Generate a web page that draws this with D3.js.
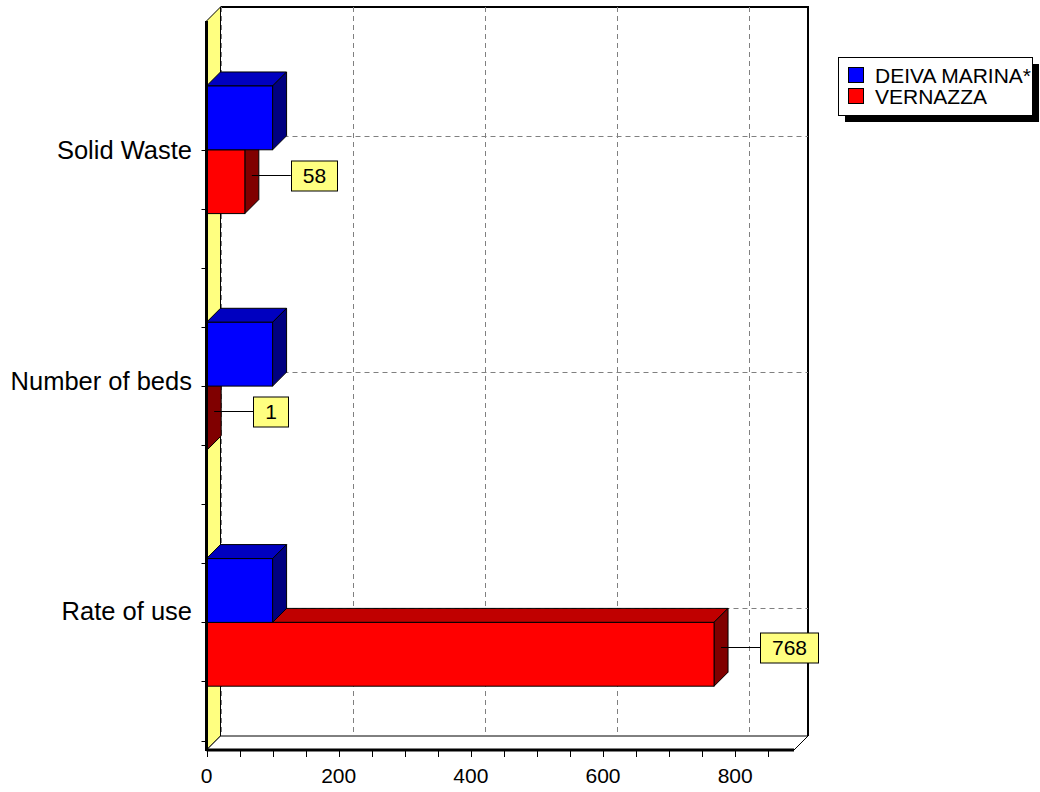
<!DOCTYPE html>
<html>
<head>
<meta charset="utf-8">
<script src="https://cdn.jsdelivr.net/npm/d3@7"></script>
<style>
  html, body { margin: 0; padding: 0; background: #ffffff; }
  svg { display: block; font-family: "Liberation Sans", Arial, sans-serif; }
</style>
</head>
<body>
<script>
// Categories (top to bottom) and the two series
const categories = ["Solid Waste", "Number of beds", "Rate of use"];
const seriesNames = ["DEIVA MARINA*", "VERNAZZA"];
const deivaValues = [100, 100, 100];
const vernazzaValues = [58, 1, 768];
const xTickLabels = [0, 200, 400, 600, 800];
const xMinorStep = 50;
const xAxisMax = 889;

// Face colours for each series: front, top, side
const palette = [
  { front: "#0000ff", top: "#0000c0", side: "#000080" },
  { front: "#ff0000", top: "#c00000", side: "#800000" }
];

const W = 1040, H = 792;
const DX = 14, DY = 14;          // 3D depth offset

const svg = d3.select("body").append("svg")
  .attr("width", W).attr("height", H);

const x = d3.scaleLinear().domain([0, xAxisMax]).range([206.5, 794]);
const y = d3.scaleLinear().domain([-0.545, 2.54]).range([21, 750]);
// category labels sit on a slightly tighter spacing than the bar groups
const yLabel = d3.scaleLinear().domain([0, 2]).range([150, 611]);
const barH = y(0.27) - y(0);

const x0 = x(0), x1 = x(xAxisMax);
const yTop = y(-0.545), yBot = y(2.54);

// Back wall
svg.append("rect")
  .attr("x", x0 + DX).attr("y", yTop - DY)
  .attr("width", x1 - x0).attr("height", yBot - yTop)
  .attr("fill", "#ffffff").attr("stroke", "none");
svg.append("path")
  .attr("d", `M${x0 + DX},${yTop - DY}H${x1 + DX}V${yBot - DY}`)
  .attr("fill", "none").attr("stroke", "#000").attr("stroke-width", 2);

// Left wall
svg.append("polygon")
  .attr("points", [[x0, yTop], [x0 + DX, yTop - DY], [x0 + DX, yBot - DY], [x0, yBot]].join(" "))
  .attr("fill", "#ffff80").attr("stroke", "#000").attr("stroke-width", 1);

// Floor
svg.append("polygon")
  .attr("points", [[x0, yBot], [x0 + DX, yBot - DY], [x1 + DX, yBot - DY], [x1, yBot]].join(" "))
  .attr("fill", "#ffffff").attr("stroke", "#000").attr("stroke-width", 1);

// Grid on back wall
const grid = svg.append("g")
  .attr("stroke", "#808080").attr("stroke-width", 1).attr("stroke-dasharray", "5,4");
grid.selectAll("line.v").data(xTickLabels).join("line")
  .attr("x1", d => Math.round(x(d) + DX) + 0.5).attr("x2", d => Math.round(x(d) + DX) + 0.5)
  .attr("y1", yTop - DY).attr("y2", yBot - DY);
grid.selectAll("line.h").data(categories).join("line")
  .attr("x1", x0 + DX).attr("x2", x1 + DX)
  .attr("y1", (d, i) => Math.round(y(i) - DY) + 0.5)
  .attr("y2", (d, i) => Math.round(y(i) - DY) + 0.5);

// Bars: one block per value, drawn lower series first so the upper one sits in front
function block(g, v, ya, yb, c) {
  const xr = x(v);
  g.append("polygon")
    .attr("points", [[x0, ya], [x0 + DX, ya - DY], [xr + DX, ya - DY], [xr, ya]].join(" "))
    .attr("fill", c.top).attr("stroke", "#000").attr("stroke-width", 1);
  g.append("polygon")
    .attr("points", [[xr, ya], [xr + DX, ya - DY], [xr + DX, yb - DY], [xr, yb]].join(" "))
    .attr("fill", c.side).attr("stroke", "#000").attr("stroke-width", 1);
  g.append("rect")
    .attr("x", x0).attr("y", ya).attr("width", Math.max(0, xr - x0)).attr("height", yb - ya)
    .attr("fill", c.front).attr("stroke", "#000").attr("stroke-width", 1);
}

const bars = svg.append("g");
categories.forEach((cat, i) => {
  const c = y(i);
  block(bars, vernazzaValues[i], c, c + barH, palette[1]);
  block(bars, deivaValues[i], c - barH, c, palette[0]);
});

// Left axis edge and category ticks
svg.append("line")
  .attr("x1", x0).attr("x2", x0).attr("y1", yTop).attr("y2", yBot + 1)
  .attr("stroke", "#000").attr("stroke-width", 3);
const yMinor = d3.range(0, 2.51, 0.25);
svg.append("g").selectAll("line").data(yMinor).join("line")
  .attr("x1", x0 - 5).attr("x2", x0 - 1)
  .attr("y1", d => Math.round(y(d)) + 0.5).attr("y2", d => Math.round(y(d)) + 0.5)
  .attr("stroke", "#000").attr("stroke-width", 1);

// Front edge of the floor with value ticks
svg.append("line")
  .attr("x1", x0).attr("x2", x1).attr("y1", yBot).attr("y2", yBot)
  .attr("stroke", "#000").attr("stroke-width", 3);
const xMinor = d3.range(0, xAxisMax, xMinorStep);
svg.append("g").selectAll("line").data(xMinor).join("line")
  .attr("x1", d => Math.round(x(d)) + 0.5).attr("x2", d => Math.round(x(d)) + 0.5)
  .attr("y1", yBot + 1).attr("y2", yBot + 7)
  .attr("stroke", "#000").attr("stroke-width", 1);
svg.append("g").selectAll("text").data(xTickLabels).join("text")
  .attr("x", d => x(d)).attr("y", 783)
  .attr("text-anchor", "middle").attr("font-size", 21).attr("fill", "#000")
  .text(d => d);

// Category labels
svg.append("g").selectAll("text").data(categories).join("text")
  .attr("x", 192).attr("y", (d, i) => yLabel(i) + 9)
  .attr("text-anchor", "end").attr("font-size", 25.5).attr("fill", "#000")
  .text(d => d);

// Value callouts for the VERNAZZA series
const callouts = svg.append("g");
vernazzaValues.forEach((v, i) => {
  const c = y(i);
  const sx = x(v) + DX / 2;
  const sy = Math.round(c + barH / 2 - DY / 2) + 0.5;
  const bx = sx + 39;
  const t = callouts.append("text")
    .attr("font-size", 21).attr("fill", "#000").text(v);
  const tw = t.node().getComputedTextLength();
  const bw = Math.round(tw + 23);
  callouts.insert("line", "text")
    .attr("x1", sx).attr("x2", bx).attr("y1", sy).attr("y2", sy)
    .attr("stroke", "#000").attr("stroke-width", 1);
  callouts.insert("rect", "text")
    .attr("x", Math.round(bx) + 0.5).attr("y", Math.round(sy - 15))
    .attr("width", bw).attr("height", 30)
    .attr("fill", "#ffff80").attr("stroke", "#000").attr("stroke-width", 1);
  t.attr("x", Math.round(bx) + 0.5 + bw / 2).attr("y", sy + 7.5).attr("text-anchor", "middle");
});

// Legend
const lg = svg.append("g");
lg.append("rect").attr("x", 845).attr("y", 64).attr("width", 194).attr("height", 58).attr("fill", "#000");
lg.append("rect").attr("x", 838.5).attr("y", 57.5).attr("width", 194).attr("height", 58)
  .attr("fill", "#fff").attr("stroke", "#000").attr("stroke-width", 1);
seriesNames.forEach((name, k) => {
  lg.append("rect")
    .attr("x", 848.5).attr("y", 67.5 + k * 21).attr("width", 15).attr("height", 15)
    .attr("fill", palette[k].front).attr("stroke", "#000").attr("stroke-width", 1);
  lg.append("text")
    .attr("x", 875).attr("y", 83 + k * 21).attr("font-size", 21).attr("fill", "#000")
    .text(name);
});
</script>
</body>
</html>
